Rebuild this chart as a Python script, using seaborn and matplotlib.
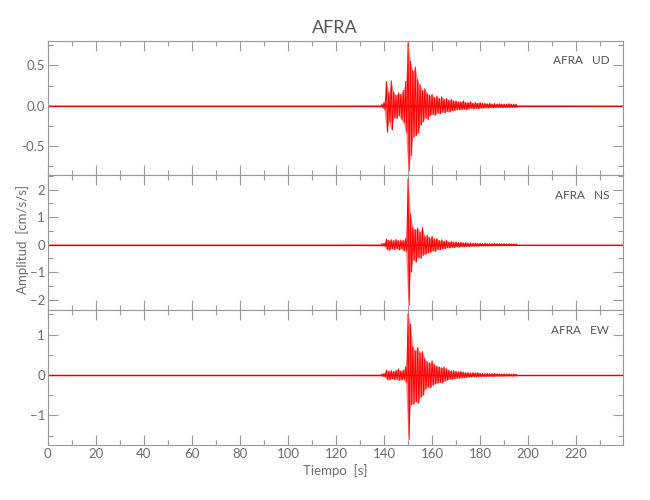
import numpy as np
import pandas as pd
import matplotlib
matplotlib.use("Agg")
import matplotlib.pyplot as plt
import seaborn as sns
from matplotlib.ticker import MultipleLocator, FormatStrFormatter

# ---- data (peak envelopes, one value per second) ----
t_burst = list(range(139, 196))

ud_hi = [0.02, 0.04, 0.30, 0.16, 0.31, 0.17, 0.13, 0.16, 0.14, 0.19, 0.30, 0.78, 0.55, 0.43, 0.48,
         0.32, 0.26, 0.19, 0.21, 0.15, 0.13, 0.14, 0.10, 0.12, 0.09, 0.11, 0.08, 0.09, 0.07, 0.08,
         0.06, 0.06, 0.05, 0.05, 0.06, 0.04, 0.04, 0.05, 0.03, 0.04, 0.03, 0.04, 0.03, 0.03, 0.025,
         0.03, 0.02, 0.025, 0.02, 0.025, 0.02, 0.02, 0.02, 0.025, 0.02, 0.02, 0.02]
ud_lo = [-0.02, -0.05, -0.33, -0.20, -0.30, -0.15, -0.16, -0.12, -0.17, -0.21, -0.33, -0.81, -0.62,
         -0.39, -0.37, -0.34, -0.24, -0.20, -0.15, -0.17, -0.12, -0.11, -0.12, -0.09, -0.10, -0.08,
         -0.09, -0.07, -0.08, -0.06, -0.06, -0.05, -0.05, -0.05, -0.04, -0.05, -0.04, -0.03, -0.04,
         -0.03, -0.035, -0.03, -0.03, -0.025, -0.03, -0.02, -0.025, -0.02, -0.02, -0.02, -0.025,
         -0.02, -0.02, -0.02, -0.02, -0.02, -0.02]

ns_hi = [0.04, 0.05, 0.20, 0.16, 0.18, 0.15, 0.19, 0.14, 0.17, 0.15, 0.22, 2.38, 1.10, 0.62, 0.55,
         0.60, 0.45, 0.62, 0.30, 0.35, 0.25, 0.30, 0.20, 0.22, 0.15, 0.18, 0.13, 0.15, 0.10, 0.12,
         0.09, 0.10, 0.08, 0.09, 0.07, 0.08, 0.06, 0.06, 0.05, 0.06, 0.05, 0.05, 0.04, 0.05, 0.04,
         0.04, 0.04, 0.05, 0.035, 0.04, 0.03, 0.04, 0.03, 0.035, 0.03, 0.03, 0.03]
ns_lo = [-0.04, -0.05, -0.18, -0.20, -0.15, -0.18, -0.14, -0.19, -0.15, -0.22, -0.25, -2.20, -1.00,
         -0.55, -0.63, -0.45, -0.50, -0.38, -0.35, -0.30, -0.28, -0.22, -0.25, -0.17, -0.18, -0.14,
         -0.15, -0.11, -0.12, -0.09, -0.10, -0.08, -0.09, -0.07, -0.08, -0.06, -0.07, -0.05, -0.06,
         -0.05, -0.05, -0.04, -0.05, -0.04, -0.04, -0.045, -0.035, -0.04, -0.04, -0.03, -0.035,
         -0.03, -0.03, -0.03, -0.03, -0.03, -0.03]

ew_hi = [0.03, 0.04, 0.12, 0.10, 0.11, 0.09, 0.12, 0.15, 0.10, 0.12, 0.20, 1.52, 1.25, 0.70, 0.60,
         0.68, 0.55, 0.58, 0.40, 0.33, 0.30, 0.35, 0.25, 0.22, 0.20, 0.18, 0.20, 0.15, 0.12, 0.10,
         0.11, 0.09, 0.08, 0.09, 0.07, 0.06, 0.06, 0.05, 0.06, 0.05, 0.06, 0.04, 0.04, 0.035, 0.04,
         0.03, 0.035, 0.04, 0.03, 0.03, 0.025, 0.03, 0.025, 0.025, 0.02, 0.025, 0.02]
ew_lo = [-0.03, -0.04, -0.11, -0.12, -0.09, -0.11, -0.10, -0.13, -0.12, -0.11, -0.18, -1.60, -0.74,
         -0.72, -0.65, -0.70, -0.55, -0.50, -0.35, -0.30, -0.32, -0.25, -0.22, -0.20, -0.18, -0.20,
         -0.15, -0.13, -0.10, -0.11, -0.09, -0.08, -0.08, -0.07, -0.06, -0.06, -0.05, -0.05, -0.04,
         -0.05, -0.04, -0.04, -0.035, -0.04, -0.03, -0.03, -0.04, -0.03, -0.03, -0.025, -0.03,
         -0.025, -0.025, -0.02, -0.025, -0.02, -0.02]

# background noise level (quiet parts)
noise_t = [0, 40, 80, 120, 139, 195, 240]
ud_noise = [0.012, 0.012, 0.012, 0.012, 0.015, 0.015, 0.012]
ns_noise = [0.035, 0.035, 0.035, 0.035, 0.04, 0.03, 0.03]
ew_noise = [0.022, 0.022, 0.022, 0.022, 0.025, 0.02, 0.02]

components = ["UD", "NS", "EW"]
station = "AFRA"
ylims = [(-0.867, 0.807), (-2.38, 2.51), (-1.73, 1.60)]
major_steps = [0.5, 1, 1]
minor_steps = [0.25, 0.5, 0.5]
traces = [(ud_hi, ud_lo, ud_noise), (ns_hi, ns_lo, ns_noise), (ew_hi, ew_lo, ew_noise)]

sns.set_theme(style="ticks")
plt.rcParams["font.family"] = ["Lato", "DejaVu Sans"]
plt.rcParams["font.weight"] = "normal"
gray = "#6e6e6e"
plt.rcParams.update({"axes.edgecolor": "#999999", "xtick.color": "#999999", "ytick.color": "#999999",
                     "xtick.labelcolor": gray, "ytick.labelcolor": gray, "axes.linewidth": 0.8})

fig, axs = plt.subplots(3, 1, figsize=(6.5, 5), dpi=100, sharex=True)
fig.subplots_adjust(left=0.0734, right=0.9585, top=0.9186, bottom=0.11, hspace=0)

for i, ax in enumerate(axs):
    hi, lo, noise = traces[i]
    nz = np.array(noise)
    ax.fill_between(noise_t, -nz, nz, color="#ff3030", lw=0, alpha=0.6)
    ax.axhline(0, color="#e00000", lw=0.8)
    tb = np.array(t_burst, dtype=float)
    # dense envelope body
    ax.fill_between(tb, lo, hi, color="#ff2020", lw=0, alpha=0.55)
    zig = pd.DataFrame({"t": np.column_stack([tb, tb + 0.5]).ravel(),
                        "amp": np.column_stack([hi, lo]).ravel()})
    sns.lineplot(data=zig, x="t", y="amp", ax=ax, sort=False, estimator=None,
                 color="#ff0000", lw=0.7)
    ax.set_xlim(0, 239.5)
    ax.set_ylim(*ylims[i])
    ax.yaxis.set_major_locator(MultipleLocator(major_steps[i]))
    ax.yaxis.set_minor_locator(MultipleLocator(minor_steps[i]))
    ax.xaxis.set_major_locator(MultipleLocator(20))
    ax.xaxis.set_minor_locator(MultipleLocator(10))
    ax.tick_params(which="both", direction="in", top=True, right=True, labelsize=9.5,
                   width=0.8, pad=2)
    ax.tick_params(which="major", length=7)
    ax.tick_params(which="minor", length=3.5)
    ax.set_xlabel("")
    ax.set_ylabel("")
    if i == 0:
        ax.yaxis.set_major_formatter(FormatStrFormatter("%.1f"))
    ax.text(0.976, 0.85, f"{station}   {components[i]}", transform=ax.transAxes,
            ha="right", va="center", fontsize=8.5, color="#555555")

axs[-1].set_xlabel("Tiempo  [s]", fontsize=9.5, color=gray, labelpad=3)
fig.text(0.034, 0.522, "Amplitud  [cm/s/s]", rotation=90, ha="center", va="center",
         fontsize=9.5, color=gray)
fig.suptitle(station, x=0.5155, y=0.96, fontsize=13, color="#555555")

fig.savefig("out.png", dpi=100)
